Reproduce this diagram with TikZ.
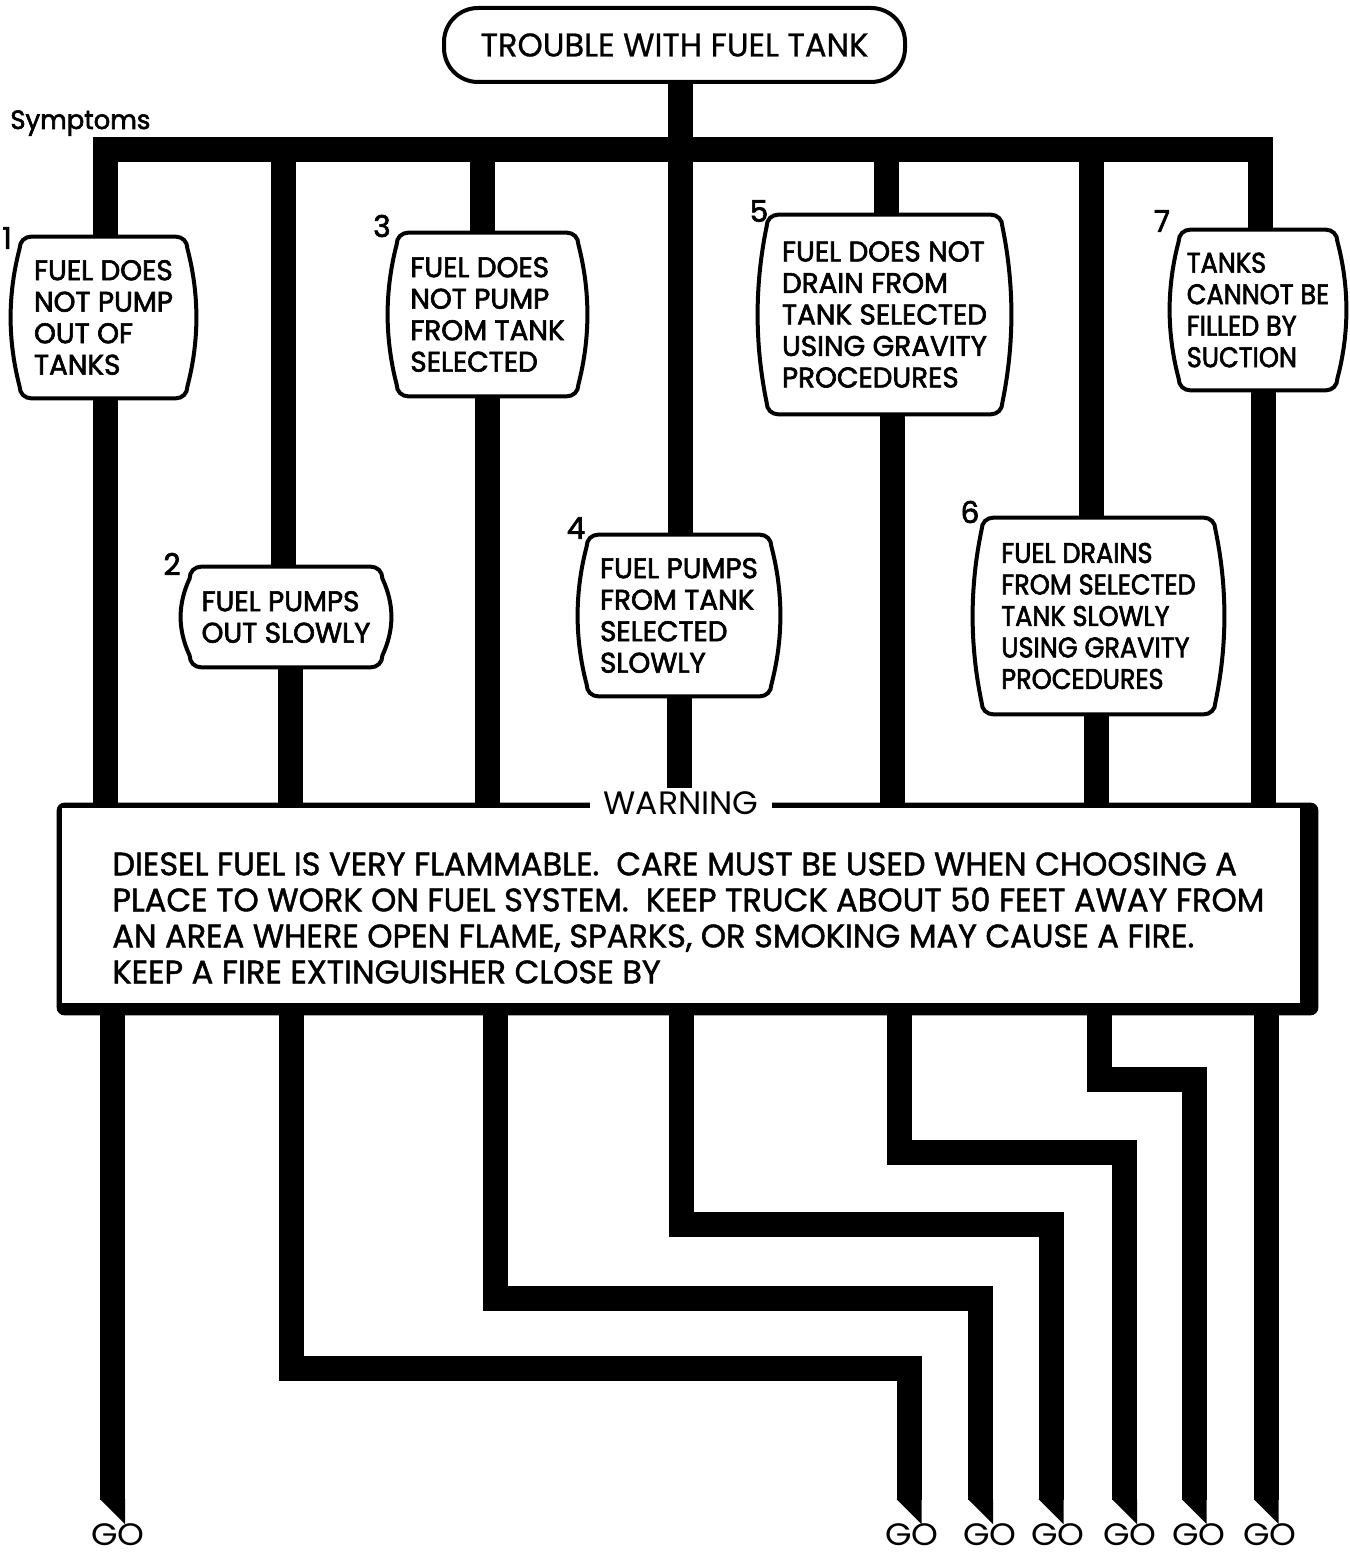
\documentclass[tikz,border=0pt]{standalone}
\usepackage{fontspec}
\setmainfont{Poppins}
\newfontfamily\bxf[FakeStretch=0.98,FakeBold=2.2]{Poppins}
\newfontfamily\bxn[FakeStretch=0.9,FakeBold=2.2]{Poppins}
\newfontfamily\wtf[FakeStretch=0.99,FakeBold=1.4]{Poppins}
\newfontfamily\ttf[FakeStretch=0.98,FakeBold=0.8]{Poppins}
\newfontfamily\wlf[FakeStretch=1.02]{Poppins}
\newfontfamily\gof[FakeStretch=1.1]{Poppins}
\usetikzlibrary{calc}
\pgfdeclarelayer{bg}
\pgfsetlayers{bg,main}
\newcommand\barrel[1]{%
  \path[boxline] let \p1=(#1.north west), \p2=(#1.south east) in
  ({\x1+10.5pt},{\y1}) -- ({\x2-10.5pt},{\y1})
  .. controls ({\x2-7pt},{\y1}) and ({\x2-4.5pt},{\y1-2.5pt}) .. ({\x2-4.5pt},{\y1-6pt})
  .. controls ({\x2+1.5pt},{\y1-6pt-(\y1-\y2-12pt)/3}) and ({\x2+1.5pt},{\y2+6pt+(\y1-\y2-12pt)/3}) .. ({\x2-4.5pt},{\y2+6pt})
  .. controls ({\x2-4.5pt},{\y2+2.5pt}) and ({\x2-7pt},{\y2}) .. ({\x2-10.5pt},{\y2})
  -- ({\x1+10.5pt},{\y2})
  .. controls ({\x1+7pt},{\y2}) and ({\x1+4.5pt},{\y2+2.5pt}) .. ({\x1+4.5pt},{\y2+6pt})
  .. controls ({\x1-1.5pt},{\y2+6pt+(\y1-\y2-12pt)/3}) and ({\x1-1.5pt},{\y1-6pt-(\y1-\y2-12pt)/3}) .. ({\x1+4.5pt},{\y1-6pt})
  .. controls ({\x1+4.5pt},{\y1-2.5pt}) and ({\x1+7pt},{\y1}) .. cycle;}
\newcommand\cuttip[1]{\fill ($(#1)+(-12.5,-1)$) -- ($(#1)+(12.5,-1)$) -- ($(#1)+(12.5,24)$) -- cycle;}
\begin{document}
\begin{tikzpicture}[x=0.5pt,y=-0.5pt,
  trunk/.style={line width=12.5pt, line cap=butt, line join=miter},
  boxline/.style={line width=2pt, draw=black, fill=white},
  sym/.style={inner sep=0pt, align=left, font=\bxf\fontsize{14.2}{15.75}\selectfont},
  num/.style={inner sep=0pt, font=\bxf\fontsize{15}{15}\selectfont},
  golabel/.style={inner sep=0pt, font=\gof\fontsize{15.5}{15.5}\selectfont}]
\useasboundingbox (0,0) rectangle (1349,1556);

% title
\node[draw, line width=2pt, rounded corners=17pt, fill=white, inner sep=0pt,
      minimum width=230.5pt, minimum height=37pt, font=\ttf\fontsize{16.4}{16.4}\selectfont]
      (top) at (674.5,45) {TROUBLE WITH FUEL TANK};
\node[anchor=base west, inner sep=0pt, font=\bxf\fontsize{13.2}{13.2}\selectfont] (symp) at (10,129) {Symptoms};

% symptom boxes
\node[sym, minimum width=92.5pt, minimum height=80.5pt] (s1) at (103.5,317.5) {FUEL DOES\\NOT PUMP\\OUT OF\\TANKS};
\node[sym, minimum width=105pt, minimum height=50pt] (s2) at (286,617) {FUEL PUMPS\\OUT SLOWLY};
\node[sym, minimum width=99.5pt, minimum height=81.5pt] (s3) at (487.5,314.5) {FUEL DOES\\NOT PUMP\\FROM TANK\\SELECTED};
\node[sym, minimum width=101pt, minimum height=80.5pt] (s4) at (679,615.5) {FUEL PUMPS\\FROM TANK\\SELECTED\\SLOWLY};
\node[sym, minimum width=126.5pt, minimum height=99.5pt] (s5) at (884.5,314.5) {FUEL DOES NOT\\DRAIN FROM\\TANK SELECTED\\USING GRAVITY\\PROCEDURES};
\node[sym, minimum width=125.5pt, minimum height=98pt, font=\bxn\fontsize{14.2}{15.75}\selectfont] (s6) at (1098.5,616) {FUEL DRAINS\\FROM SELECTED\\TANK SLOWLY\\USING GRAVITY\\PROCEDURES};
\node[sym, minimum width=88pt, minimum height=80pt, font=\bxn\fontsize{14.2}{15.75}\selectfont] (s7) at (1258,310) {TANKS\\CANNOT BE\\FILLED BY\\SUCTION};

\node[num] (n1) at (7,238) {1};
\node[num] (n2) at (172,564) {2};
\node[num] (n3) at (382,226) {3};
\node[num] (n4) at (576,528) {4};
\node[num] (n5) at (759,211) {5};
\node[num] (n6) at (970,512) {6};
\node[num] (n7) at (1162,221) {7};

% warning
\node[minimum width=630.5pt, minimum height=106pt, inner sep=0pt] (warn) at (687.5,909) {};
\node[fill=white, inner xsep=7pt, inner ysep=1.5pt, font=\wlf\fontsize{16.2}{16.2}\selectfont] (wlabel) at (681,803) {WARNING};
\node[anchor=north west, inner sep=0pt, align=left, font=\wtf\fontsize{16.2}{18}\selectfont] (wtext) at (112,852)
  {DIESEL FUEL IS VERY FLAMMABLE.\ \ CARE MUST BE USED WHEN CHOOSING A\\
   PLACE TO WORK ON FUEL SYSTEM.\ \ KEEP TRUCK ABOUT 50 FEET AWAY FROM\\
   AN AREA WHERE OPEN FLAME, SPARKS, OR SMOKING MAY CAUSE A FIRE.\\
   KEEP A FIRE EXTINGUISHER CLOSE BY};

% GO labels
\node[golabel] (go1) at (118,1535) {GO};
\node[golabel] (go2) at (912,1535) {GO};
\node[golabel] (go3) at (990,1535) {GO};
\node[golabel] (go4) at (1058,1535) {GO};
\node[golabel] (go5) at (1130,1535) {GO};
\node[golabel] (go6) at (1199,1535) {GO};
\node[golabel] (go7) at (1270,1535) {GO};

% coordinates
\coordinate (j1) at (105,150);  \coordinate (j2) at (283,150);
\coordinate (j3) at (482.5,150);\coordinate (j4) at (680,150);
\coordinate (j5) at (886.5,150);\coordinate (j6) at (1091.5,150);
\coordinate (j7) at (1260.5,150);
\coordinate (m1) at (105,0);  \coordinate (m2) at (290,0);
\coordinate (m3) at (487.5,0);\coordinate (m4) at (679,0);
\coordinate (m5) at (892,0);  \coordinate (m6) at (1096,0);
\coordinate (m7) at (1263,0);
\coordinate (d1) at (112.5,0); \coordinate (d2) at (291,0);
\coordinate (d3) at (495.5,0); \coordinate (d4) at (681,0);
\coordinate (d5) at (899.5,0); \coordinate (d6) at (1099.5,0);
\coordinate (d7) at (1266,0);
\coordinate (h2) at (909,1368);   \coordinate (h3) at (980.5,1298.5);
\coordinate (h4) at (1051,1224.5);\coordinate (h5) at (1124.5,1152);
\coordinate (h6) at (1194,1079);
\coordinate (t1) at (112.5,1500); \coordinate (t2) at (909,1500);
\coordinate (t3) at (980.5,1500); \coordinate (t4) at (1051,1500);
\coordinate (t5) at (1124.5,1500);\coordinate (t6) at (1194,1500);
\coordinate (t7) at (1266,1500);

\begin{pgfonlayer}{bg}
\fill[white] (0,0) rectangle (1349,1556);
% bus and top stems
\draw[trunk] (j4 |- top.south) -- (j4);
\draw[trunk] (j1 |- s1.north) -- (j1) -- (j7) -- (j7 |- s7.north);
\foreach \k in {2,...,6} {\draw[trunk] (j\k) -- (j\k |- s\k.north);}
% from symptom boxes to warning box
\foreach \k in {1,2,3,5,6,7} {\draw[trunk] (m\k |- s\k.south) -- (m\k |- warn.north);}
\draw[trunk] (m4 |- s4.south) -- (m4 |- wlabel.north);
% below warning box
\draw[trunk] (d1 |- warn.south) -- (t1);
\foreach \k in {2,...,6} {\draw[trunk] (d\k |- warn.south) |- (h\k) -- (t\k);}
\draw[trunk] (d7 |- warn.south) -- (t7);
\foreach \k in {1,...,7} {\cuttip{t\k}}
% boxes
\foreach \k in {1,...,7} {\barrel{s\k}}
% warning frame
\fill[rounded corners=4pt] (warn.north west) rectangle (warn.south east);
\fill[white] ($(warn.north west)+(5,5)$) rectangle ($(warn.south east)+(-18,-12)$);
\end{pgfonlayer}
\end{tikzpicture}
\end{document}
